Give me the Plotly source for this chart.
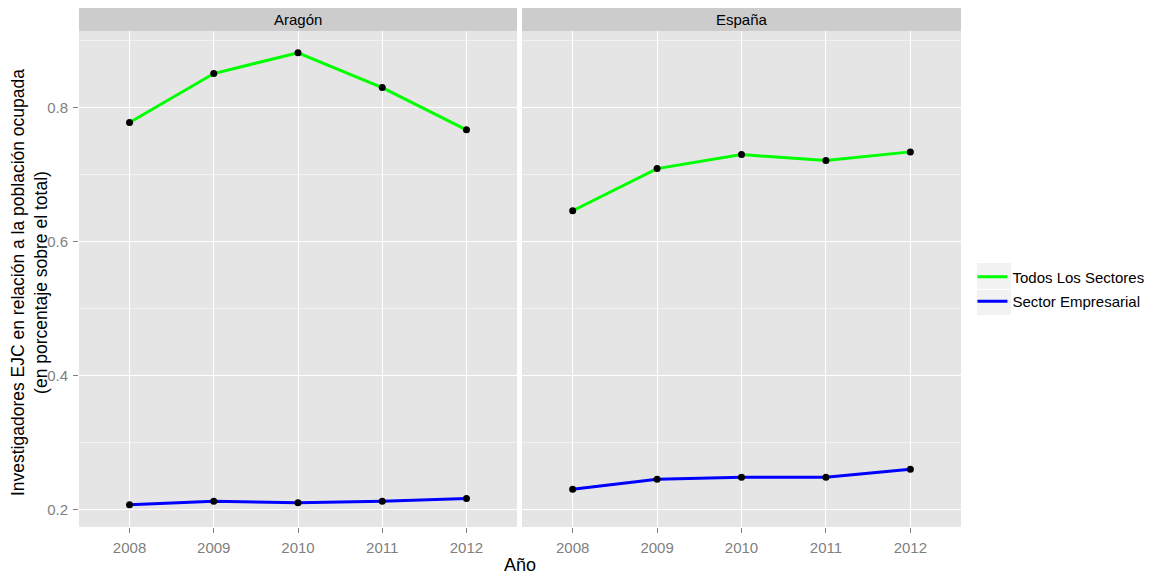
import plotly.graph_objects as go

anios = [2008, 2009, 2010, 2011, 2012]
regiones = ["Aragón", "España"]
series = ["Todos Los Sectores", "Sector Empresarial"]
colores = {"Todos Los Sectores": "#00FF00", "Sector Empresarial": "#0000FF"}

valores = {
    "Aragón": {
        "Todos Los Sectores": [0.778, 0.851, 0.882, 0.830, 0.767],
        "Sector Empresarial": [0.207, 0.212, 0.210, 0.212, 0.216],
    },
    "España": {
        "Todos Los Sectores": [0.646, 0.709, 0.730, 0.721, 0.734],
        "Sector Empresarial": [0.230, 0.245, 0.248, 0.248, 0.260],
    },
}

fig = go.Figure()
for i, reg in enumerate(regiones):
    xa = "x" if i == 0 else "x2"
    ya = "y" if i == 0 else "y2"
    for s in series:
        fig.add_trace(go.Scatter(x=anios, y=valores[reg][s], mode="lines", name=s,
                                 line=dict(color=colores[s], width=3),
                                 xaxis=xa, yaxis=ya, showlegend=(i == 0), legendgroup=s))
    for s in series:
        fig.add_trace(go.Scatter(x=anios, y=valores[reg][s], mode="markers",
                                 marker=dict(color="black", size=7),
                                 xaxis=xa, yaxis=ya, showlegend=False, hoverinfo="skip"))

# la pagina tiene 8px de margen en el body
W, H = 1146, 567
ml, mr, mt, mb = 71, 193, 0, 48
pw = W - ml - mr
ph = H - mt - mb
ydom = [0, 0.9557]
xd1 = [0, 0.4966]
xd2 = [0.5023, 1]
ticks = dict(tickfont=dict(family="Liberation Sans", size=15, color="#7F7F7F"),
             ticks="outside", ticklen=5, tickcolor="#7F7F7F", showline=False,
             gridcolor="white", gridwidth=1.2, zeroline=False, ticklabelstandoff=2)
xcommon = dict(range=[2007.4, 2012.6], tickvals=anios, **ticks)
ycommon = dict(range=[0.1736, 0.9146], tickvals=[0.2, 0.4, 0.6, 0.8],
               tickformat=".1f", minor=dict(tickvals=[0.3, 0.5, 0.7, 0.9],
                                            gridcolor="#F2F2F2", gridwidth=0.6, ticks=""),
               **ticks)

fig.update_layout(
    width=W, height=H,
    margin=dict(l=ml, r=mr, t=mt, b=mb),
    paper_bgcolor="white", plot_bgcolor="#E5E5E5",
    font=dict(family="Liberation Sans", color="black"),
    xaxis=dict(domain=xd1, anchor="y", **xcommon),
    xaxis2=dict(domain=xd2, anchor="y2", **xcommon),
    yaxis=dict(domain=ydom, anchor="x", **ycommon),
    yaxis2=dict(domain=ydom, anchor="x2", matches="y", showticklabels=False, ticks="",
                **{k: v for k, v in ycommon.items() if k not in ("ticks",)}),
    legend=dict(x=1.013, y=0.4586, yanchor="middle", xanchor="left",
                font=dict(size=15, family="Liberation Sans"), bgcolor="rgba(0,0,0,0)",
                tracegroupgap=2),
    showlegend=True,
)

# cajas grises de la leyenda
for y0, y1 in [(255, 281), (282, 307)]:
    fig.add_shape(type="rect", xref="paper", yref="paper",
                  x0=(969 - ml) / pw, x1=(1003 - ml) / pw,
                  y0=(ph - y0) / ph, y1=(ph - y1) / ph,
                  fillcolor="#F2F2F2", line=dict(width=0), layer="below")

for dom, reg in zip([xd1, xd2], regiones):
    fig.add_shape(type="rect", xref="paper", yref="paper", x0=dom[0], x1=dom[1],
                  y0=ydom[1], y1=1, fillcolor="#CCCCCC", line=dict(width=0), layer="below")
    fig.add_annotation(x=(dom[0] + dom[1]) / 2, y=(ydom[1] + 1) / 2, xref="paper", yref="paper",
                       xanchor="center", yanchor="middle",
                       text=reg, showarrow=False, font=dict(size=15, color="black"))

fig.add_annotation(x=0.5, y=-26 / ph, xref="paper", yref="paper", yanchor="top",
                   text="Año", showarrow=False, font=dict(size=18))
fig.add_annotation(x=-50 / pw, y=0.470, xref="paper", yref="paper", textangle=-90,
                   xanchor="center", yanchor="middle",
                   text="Investigadores EJC en relación a la población ocupada<br>(en porcentaje sobre el total)",
                   showarrow=False, font=dict(size=17.5))

fig.write_html("out.html")
